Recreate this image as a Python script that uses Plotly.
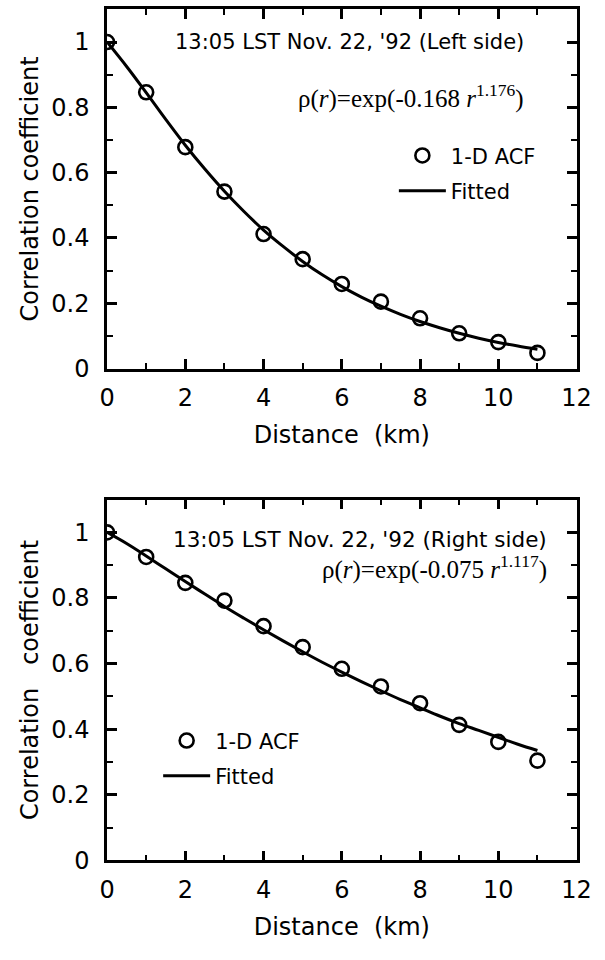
import plotly.graph_objects as go

# ---- data ----
dist = [0, 1, 2, 3, 4, 5, 6, 7, 8, 9, 10, 11]
acf_left = [1.0, 0.846, 0.678, 0.542, 0.412, 0.335, 0.259, 0.205, 0.154, 0.108, 0.081, 0.048]
acf_right = [1.0, 0.925, 0.846, 0.792, 0.714, 0.65, 0.584, 0.53, 0.479, 0.413, 0.361, 0.304]

fit_x = [0, 0.5, 1, 1.5, 2, 2.5, 3, 3.5, 4, 4.5, 5, 5.5, 6, 6.5, 7, 7.5, 8, 8.5, 9, 9.5, 10, 10.5, 11]
fit_left = [1.0, 0.925, 0.845, 0.763, 0.684, 0.611, 0.543, 0.481, 0.424, 0.374, 0.328, 0.287,
            0.251, 0.219, 0.191, 0.166, 0.144, 0.125, 0.108, 0.093, 0.080, 0.069, 0.059]
fit_right = [1.0, 0.966, 0.928, 0.889, 0.850, 0.812, 0.774, 0.738, 0.703, 0.669, 0.636, 0.604,
             0.574, 0.545, 0.517, 0.490, 0.465, 0.440, 0.417, 0.396, 0.375, 0.354, 0.335]

y_ticks = [0, 0.2, 0.4, 0.6, 0.8, 1.0]
y_ticktext = ["0", "0.2", "0.4", "0.6", "0.8", "1"]

title_left = "13:05 LST Nov. 22, '92 (Left side)"
title_right = "13:05 LST Nov. 22, '92 (Right side)"
eq_left = "ρ(<i>r</i>)=exp(-0.168 <i>r</i><sup>1.176</sup>)"
eq_right = "ρ(<i>r</i>)=exp(-0.075 <i>r</i><sup>1.117</sup>)"

SANS = "DejaVu Sans, Verdana, sans-serif"
SERIF = "Liberation Serif, Times New Roman, serif"

fig = go.Figure()

for i, (acf, fit, leg) in enumerate([(acf_left, fit_left, "legend"), (acf_right, fit_right, "legend2")]):
    xa = "x" if i == 0 else "x2"
    ya = "y" if i == 0 else "y2"
    fig.add_trace(go.Scatter(x=fit_x, y=fit, mode="lines", line=dict(color="black", width=3, shape="spline"),
                             name="Fitted", xaxis=xa, yaxis=ya, legend=leg, legendgroup="b%d" % i, legendrank=2))
    fig.add_trace(go.Scatter(x=dist, y=acf, mode="markers",
                             marker=dict(symbol="circle-open", size=14, color="black", line=dict(width=2.6, color="black")),
                             name="1-D ACF", xaxis=xa, yaxis=ya, legend=leg, legendgroup="a%d" % i, legendrank=1))

axis_common = dict(
    showline=True, linecolor="black", linewidth=2.5, mirror="ticks",
    ticks="inside", ticklen=10, tickwidth=2.5, tickcolor="black",
    showgrid=False, zeroline=False,
    tickfont=dict(family=SANS, size=24, color="black"),
    ticklabeloverflow="allow",
)

xcommon = dict(axis_common, range=[0, 12], tick0=0, dtick=2, ticklabelstandoff=6,
               minor=dict(ticks="inside", dtick=1, ticklen=6, tickwidth=2, tickcolor="black", showgrid=False),
               title=dict(text="Distance\u00a0\u00a0(km)", font=dict(family=SANS, size=24, color="black"), standoff=16))
ycommon = dict(axis_common, range=[0, 1.1], tickvals=y_ticks, ticktext=y_ticktext, ticklabelstandoff=10,
               minor=dict(ticks="inside", dtick=0.1, ticklen=6, tickwidth=2, tickcolor="black", showgrid=False))

fig.update_layout(
    width=605, height=960,
    margin=dict(l=0, r=0, t=0, b=0),
    paper_bgcolor="white", plot_bgcolor="white",
    xaxis=dict(xcommon, domain=[0.1702, 0.9769], anchor="y"),
    yaxis=dict(ycommon, domain=[0.6104, 0.9901], anchor="x",
               title=dict(text="Correlation coefficient", font=dict(family=SANS, size=24, color="black"), standoff=6)),
    xaxis2=dict(xcommon, domain=[0.1702, 0.9769], anchor="y2"),
    yaxis2=dict(ycommon, domain=[0.0906, 0.4719], anchor="x2",
                title=dict(text="Correlation\u00a0\u00a0\u00a0coefficient", font=dict(family=SANS, size=24, color="black"), standoff=6)),
    legend=dict(x=0.663, y=0.857, xanchor="left", yanchor="top", bgcolor="rgba(0,0,0,0)",
                font=dict(family=SANS, size=21, color="black"), traceorder="grouped", tracegroupgap=5,
                itemwidth=47),
    legend2=dict(x=0.258, y=0.2385, xanchor="left", yanchor="top", bgcolor="rgba(0,0,0,0)",
                 font=dict(family=SANS, size=21, color="black"), traceorder="grouped", tracegroupgap=5,
                 itemwidth=47),
    showlegend=True,
)

annots = [
    dict(x=10.7, y=1.0, xref="x", yref="y", text=title_left, font=dict(family=SANS, size=21, color="black")),
    dict(x=10.7, y=0.834, xref="x", yref="y", text=eq_left, font=dict(family=SERIF, size=25, color="black")),
    dict(x=11.3, y=0.979, xref="x2", yref="y2", text=title_right, font=dict(family=SANS, size=21.5, color="black")),
    dict(x=11.3, y=0.892, xref="x2", yref="y2", text=eq_right, font=dict(family=SERIF, size=25, color="black")),
]
for a in annots:
    fig.add_annotation(showarrow=False, xanchor="right", yanchor="middle", **a)

fig.write_html("out.html")
